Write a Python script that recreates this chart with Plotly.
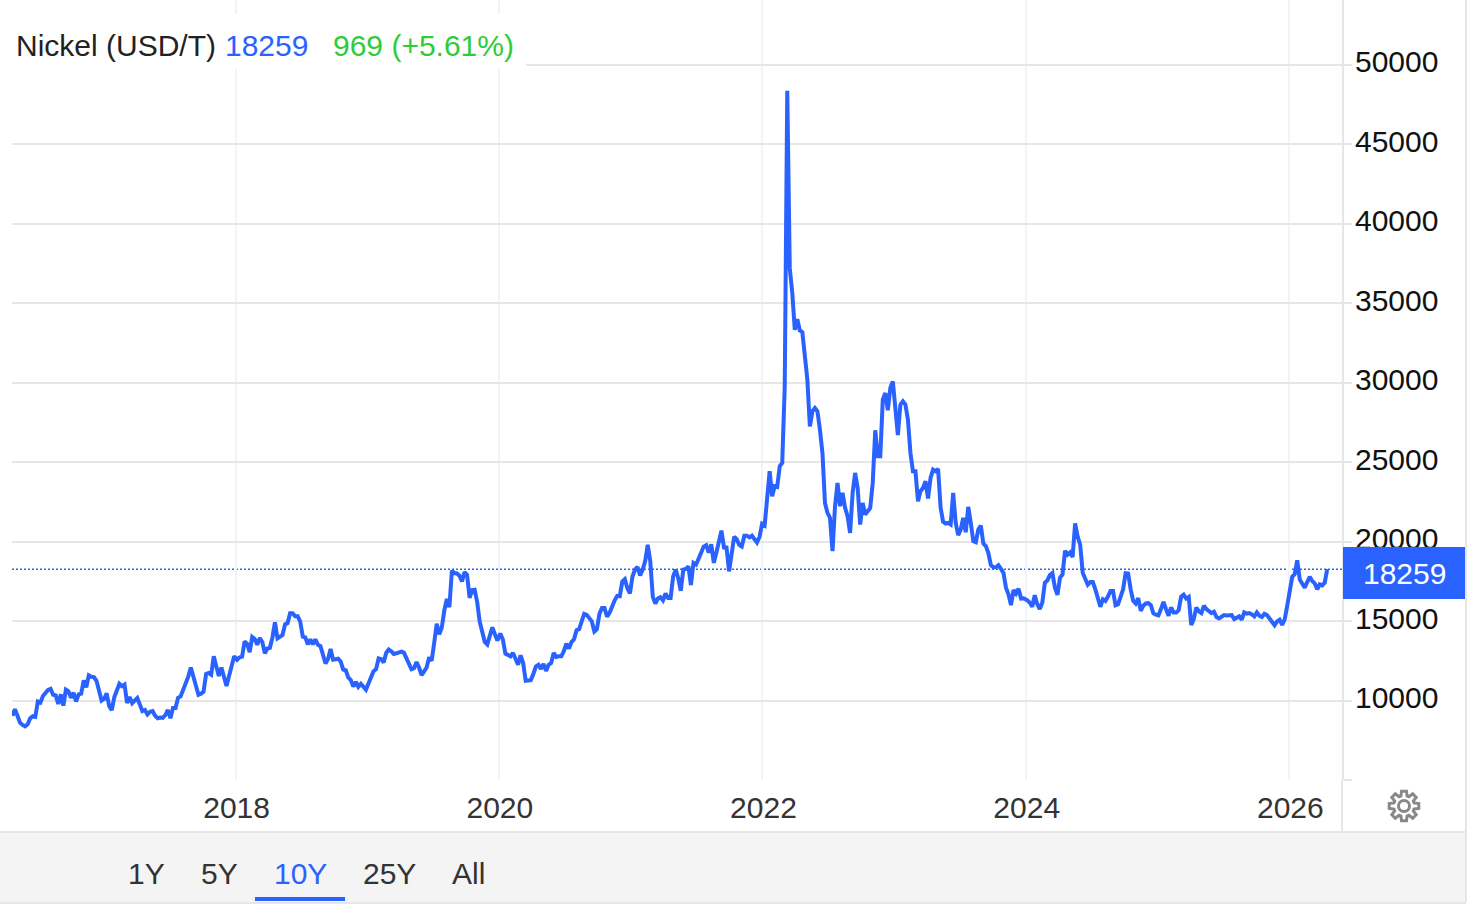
import math
import pandas as pd
import plotly.graph_objects as go

# ---------- data (USD/T, roughly weekly) ----------
values_2016_17 = [9038,9444,9038,8611,8461,8376,8504,8889,9017,8974,9936,9872,10278,10470,10662,10727,10363,10321,9786,10385,9679,10684,10577,10171,10492,9936,10385,10427,11261,10833,11581,11496,11475,11239,10641,10000,10107,10449,9637,9402,10214,10641,11047,10898,11004,9850,10214,9829,10021,10150,9744,9338,9402,9124,9295,9338,9038,8889,8932,8910,9081,9402,8889,9530,9530,10171,10256,10641,11004,11496,12073,11496,10962,10363,10427,10556,11667,11731,11624,12778,12137,11539,12073,11389,10919,11539,12180,12778]
values_2018_19 = [12564,12714,12757,13718,13569,13035,13996,13868,13505,13932,13676,12970,13270,13312,13953,14915,13911,14060,14124,14787,14872,15492,15492,15300,15300,14958,14017,13975,13526,13847,13526,13847,13505,13419,12778,12329,12607,13248,12564,12586,12628,12457,11945,11902,11453,11282,10876,11175,10855,11047,10898,10684,11069,11496,11838,11966,12650,12607,12393,12992,13206,13099,12928,12970,12992,13077,13013,12671,12436,11966,12030,12415,12073,11603,11838,12073,12714,12500,13633,14830,14167,14595,15663,16390,15877,18163,18014,17992,17843,17480,18078,17907,16454,16945,16967,16197,14958,14274,13676,13526,14167,14595,14167,13782]
values_2020_21 = [14210,13847,12949,12842,12778,12992,12564,12244,12842,12351,11239,11282,11282,11667,12137,12244,11987,12308,11859,12244,12351,12992,12735,12778,12778,13099,13569,13270,13676,13847,14424,14488,14915,15449,15385,15214,14979,14338,14488,15449,15813,15813,15278,15513,15984,16304,16582,16561,17480,17629,17052,16732,17800,18227,18398,17864,18227,18762,19787,18762,16518,16091,16411,16497,16304,16732,16454,16454,17800,18227,17693,16903,18227,18270,18441,17266,18655,18548,18911,19232,19681,19766,19296,19830,18655,19296,20044,20685,19617,19617,18120,19296,20300,20150,19787,19681,20364,20364,20257,20364,20150,19937,20300,21112]
values_2022_23 = [21005,22638,24418,22848,23476,23434,24732,24942,29758,48353,37192,35621,33318,33988,33276,33172,31852,30177,27245,28188,28397,28188,27036,25570,22429,21801,21487,19393,22220,23685,22220,23057,22115,21591,20544,23057,24314,23371,21068,22429,21696,21906,22115,23685,26994,25361,25361,28920,29339,28250,29653,30072,27978,26701,28606,28816,28606,27664,25570,24418,24418,22534,23162,23371,23790,22701,23999,24523,24418,24565,22115,21235,21131,21173,21068,23057,21173,20398,20754,21487,20586,22178,21173,20021,19958,20754,21005,19874,19707,19275,18507,18382,18382,18507,18279,18030,17096,16681,15996,16951,16722,17034,16411,16432]
values_2024_25 = [16307,16162,15892,16619,16058,15747,16162,17407,17552,17884,18009,17096,16639,17718,17926,19420,19171,19316,19026,21142,20312,19793,18030,17615,17283,17449,17449,16992,16370,15892,16370,16266,16536,16888,16888,15996,16058,16577,16992,18009,17988,16992,16266,16100,16432,15643,15955,16100,16121,15996,15477,15394,15353,15747,16204,15747,15332,15851,15540,15540,15685,16536,16660,16411,16515,14751,15125,15851,15602,15498,15955,15747,15643,15498,15581,15249,15166,15291,15374,15353,15374,15374,15125,15228,15291,15083,15540,15457,15498,15415,15291,15540,15332,15249,15457,15374,15125,14959,14730,14979,15083,14751,15083,15955,17034]
values_2026 = [17780,17946,18818,17615,17303,17096,17449,17780,17511,17365,16992,17303,17241,17407,18259]

spans = [("2016-04-22", "2017-12-28", values_2016_17),
         ("2018-01-05", "2019-12-28", values_2018_19),
         ("2020-01-05", "2021-12-31", values_2020_21),
         ("2022-01-07", "2023-12-26", values_2022_23),
         ("2024-01-05", "2026-01-02", values_2024_25),
         ("2026-01-09", "2026-04-16", values_2026)]

year_ticks = ["2018-01-01", "2020-01-01", "2022-01-01", "2024-01-01", "2026-01-01"]
year_labels = ["2018", "2020", "2022", "2024", "2026"]
y_ticks = [5000, 10000, 15000, 20000, 25000, 30000, 35000, 40000, 45000, 50000]
y_labels = ["", "10000", "15000", "20000", "25000", "30000", "35000", "40000", "45000", "50000"]
latest = 18259
change_text = "969 (+5.61%)"
series_name = "Nickel (USD/T)"
tabs = ["1Y", "5Y", "10Y", "25Y", "All"]

dates, values = [], []
for start, end, vals in spans:
    dates += list(pd.date_range(start, end, periods=len(vals)))
    values += vals

# ---------- layout constants ----------
W, H = 1468, 908
L, R, T, B = 12, 1342, 0, 780   # plot area in page pixels
BLUE = "#2962ff"
GRID = "#e6e6e6"
VGRID = "#f0f3f7"
FONT = "Liberation Sans"
def px(x): return (x - L) / (R - L)
def py(y): return (B - y) / (B - T)

fig = go.Figure(go.Scatter(x=dates, y=values, mode="lines", hoverinfo="skip",
                           line=dict(color=BLUE, width=4), showlegend=False))

shapes = []
def rect(x0, y0, x1, y1, fill, layer="above"):
    shapes.append(dict(type="rect", xref="paper", yref="paper", x0=px(x0), x1=px(x1),
                       y0=py(y0), y1=py(y1), fillcolor=fill, layer=layer, line=dict(width=0)))
def seg(x0, y0, x1, y1, color, width=2):
    shapes.append(dict(type="line", xref="paper", yref="paper", x0=px(x0), x1=px(x1),
                       y0=py(y0), y1=py(y1), line=dict(color=color, width=width), layer="above"))

# last-value dotted line
shapes.append(dict(type="line", xref="paper", yref="y", x0=0, x1=1, y0=latest, y1=latest,
                   line=dict(color=BLUE, width=1.6, dash="2px,2px"), layer="below"))
# title backing, bottom bar, frame
rect(12, 14, 526, 69, "white")
rect(0, 832, 1466, 902, "#f4f4f4")
seg(0, 832, 1466, 832, GRID)
seg(0, 903, 1466, 903, GRID)
seg(1342, 780, 1342, 832, GRID)
seg(1466, 0, 1466, 902, GRID)
# active tab underline
rect(255, 897, 345, 901, BLUE)
# price badge
rect(1343, 547, 1465, 599, BLUE)

# gear icon
teeth = 8
pts = []
for i in range(teeth):
    a = 2 * math.pi * i / teeth
    for da, r in [(-0.30, 10.5), (-0.17, 15), (0.17, 15), (0.30, 10.5)]:
        pts.append((r * math.cos(a + da), r * math.sin(a + da)))
gear = "M " + " L ".join(f"{x:.1f} {y:.1f}" for x, y in pts) + " Z"
shapes.append(dict(type="path", xref="paper", yref="paper", xsizemode="pixel", ysizemode="pixel",
                   xanchor=px(1404), yanchor=py(806), path=gear, line=dict(color="#888888", width=3), layer="above"))
shapes.append(dict(type="circle", xref="paper", yref="paper", xsizemode="pixel", ysizemode="pixel",
                   xanchor=px(1404), yanchor=py(806), x0=-5.5, x1=5.5, y0=-5.5, y1=5.5,
                   line=dict(color="#888888", width=3), layer="above"))

anns = []
def text(x, y, s, color, anchor="left", size=30):
    anns.append(dict(xref="paper", yref="paper", x=px(x), y=py(y), text=s, showarrow=False,
                     xanchor=anchor, yanchor="middle", borderpad=0, borderwidth=0,
                     font=dict(family=FONT, size=size, color=color)))

text(16, 45, series_name, "#222222")
text(225, 45, str(latest), BLUE)
text(333, 45, change_text, "#2fcc3a")
text(1404, 573, str(latest), "white", "center")
for x, t in zip([146, 219, 300, 389, 468], tabs):
    text(x, 873, t, BLUE if t == "10Y" else "#333333", "center")

fig.update_layout(
    width=W, height=H, autosize=False,
    margin=dict(l=L, r=W - R, t=T, b=H - B, pad=0),
    paper_bgcolor="white", plot_bgcolor="white",
    font=dict(family=FONT, size=30),
    shapes=shapes, annotations=anns, hovermode=False,
    xaxis=dict(type="date", range=["2016-04-21", "2026-05-27"], tickmode="array",
               tickvals=year_ticks, ticktext=year_labels, showgrid=True, gridcolor=VGRID, gridwidth=2,
               zeroline=False, showline=False, ticks="", ticklabelstandoff=7, ticklabelshift=1,
               tickfont=dict(family=FONT, size=30, color="#333333")),
    yaxis=dict(side="right", range=[5000, 54057], tickmode="array", tickvals=y_ticks, ticktext=y_labels,
               showgrid=True, gridcolor=GRID, gridwidth=2, zeroline=False,
               showline=True, linecolor=GRID, linewidth=2, ticks="outside", ticklen=8, tickcolor=GRID, tickwidth=2,
               ticklabelstandoff=-3, ticklabelshift=-3,
               tickfont=dict(family=FONT, size=30, color="#111111")),
)

fig.write_html("out.html", config=dict(displayModeBar=False),
               post_script="document.body.style.margin='0';")
